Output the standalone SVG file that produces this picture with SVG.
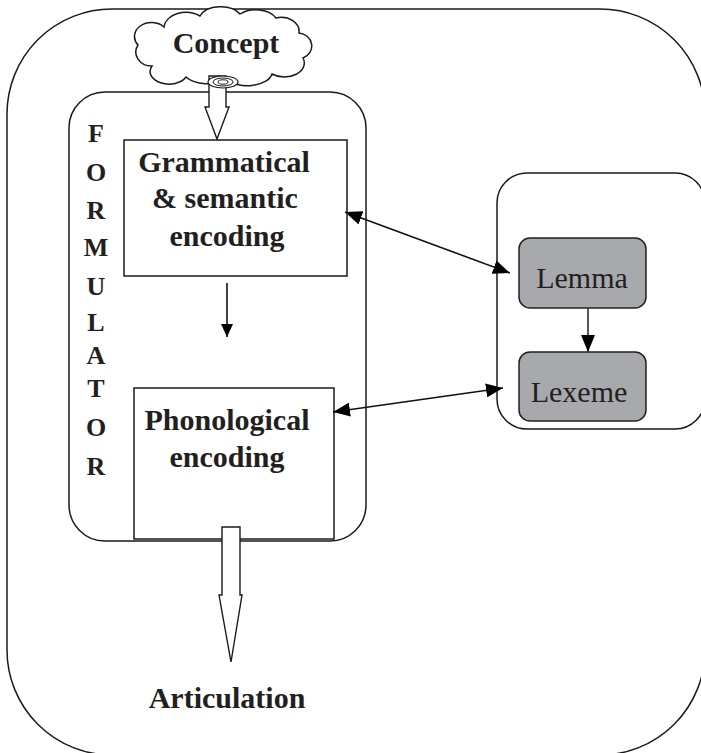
<svg xmlns="http://www.w3.org/2000/svg" width="701" height="753" viewBox="0 0 701 753">
  <style>
    .frame { fill: none; stroke: #1a1a1a; stroke-width: 1.5; }
    .box { fill: #ffffff; stroke: #1a1a1a; stroke-width: 1.5; }
    .lex { fill: #a7a9ac; stroke: #231f20; stroke-width: 1.5; }
    .block { fill: #ffffff; stroke: #1a1a1a; stroke-width: 1.4; stroke-linejoin: miter; }
    .link { fill: none; stroke: #111111; stroke-width: 1.6; }
    text { font-family: 'Liberation Serif', 'Times New Roman', serif; fill: #231f20; text-anchor: middle; }
    .bold { font-weight: bold; font-size: 30px; }
    .plain { font-weight: normal; font-size: 30px; }
    .side { font-weight: bold; font-size: 26px; }
  </style>
  <defs>
    <marker id="head" markerUnits="userSpaceOnUse" markerWidth="18" markerHeight="14" refX="17" refY="7" orient="auto-start-reverse">
      <path d="M0,0 L17,7 L0,14 Z" fill="#000"/>
    </marker>
    <marker id="headSmall" markerUnits="userSpaceOnUse" markerWidth="14" markerHeight="12" refX="13" refY="6" orient="auto">
      <path d="M0,0 L13,6 L0,12 Z" fill="#000"/>
    </marker>
  </defs>

  <rect width="701" height="753" fill="#ffffff"/>

  <!-- speaker boundary -->
  <g id="speaker">
    <rect class="frame" x="7" y="9" width="698" height="746" rx="105" ry="105"/>
  </g>

  <!-- formulator -->
  <g id="formulator">
    <rect class="frame" x="69" y="92" width="297" height="449" rx="36" ry="36"/>
    <text class="side" x="96" y="142">F</text>
    <text class="side" x="96" y="181">O</text>
    <text class="side" x="96" y="219">R</text>
    <text class="side" x="96" y="256">M</text>
    <text class="side" x="96" y="295">U</text>
    <text class="side" x="96" y="331">L</text>
    <text class="side" x="96" y="364">A</text>
    <text class="side" x="96" y="397">T</text>
    <text class="side" x="96" y="436">O</text>
    <text class="side" x="96" y="475">R</text>
  </g>

  <!-- lexicon -->
  <g id="lexicon">
    <rect class="frame" x="497" y="173" width="208" height="256" rx="30" ry="30"/>
  </g>

  <g id="grammatical">
    <rect class="box" x="124" y="140" width="223" height="136"/>
    <text class="bold" x="224" y="172">Grammatical</text>
    <text class="bold" x="225" y="208">&amp; semantic</text>
    <text class="bold" x="227" y="246">encoding</text>
  </g>

  <g id="phonological">
    <rect class="box" x="134" y="388" width="200" height="151"/>
    <text class="bold" x="227" y="430">Phonological</text>
    <text class="bold" x="227" y="467">encoding</text>
  </g>

  <g id="lemma">
    <rect class="lex" x="519" y="238" width="127" height="70" rx="11" ry="11"/>
    <text class="plain" x="582" y="288">Lemma</text>
  </g>

  <g id="lexeme">
    <rect class="lex" x="519" y="352" width="127" height="69" rx="11" ry="11"/>
    <text class="plain" x="579" y="402">Lexeme</text>
  </g>

  <g id="concept">
    <path class="box" d="M152,66 A16,14 0 0 1 138,45 A17,14 0 0 1 164,27 A22,16 0 0 1 200,16 A22,14 0 0 1 240,14 A22,14 0 0 1 276,18 A18,14 0 0 1 299,33 A14,13 0 0 1 303,58 A20,14 0 0 1 272,74 A25,14 0 0 1 226,79 A25,14 0 0 1 186,77 A18,12 0 0 1 152,66 Z"/>
    <text class="bold" x="226" y="53">Concept</text>
  </g>

  <g id="connectors">
    <!-- concept into grammatical encoding -->
    <path class="block" d="M209,76 L226,76 L226,107 L229,107 L217,139 L205,107 L209,107 Z"/>
    <ellipse cx="223" cy="82" rx="15" ry="6" fill="#ffffff" stroke="#1a1a1a" stroke-width="1.2"/>
    <ellipse cx="223" cy="82" rx="10" ry="4" fill="none" stroke="#1a1a1a" stroke-width="1"/>
    <ellipse cx="223" cy="82" rx="5" ry="2.2" fill="none" stroke="#1a1a1a" stroke-width="1"/>

    <!-- grammatical to phonological -->
    <line class="link" x1="227" y1="283" x2="227" y2="337" marker-end="url(#headSmall)"/>

    <!-- out to articulation -->
    <path class="block" d="M222,527 L240,527 L240,595 L242,595 L231,662 L219,595 L222,595 Z"/>

    <!-- lexicon exchanges -->
    <line class="link" x1="345" y1="212" x2="510" y2="273" marker-start="url(#head)" marker-end="url(#head)"/>
    <line class="link" x1="333" y1="412" x2="503" y2="388" marker-start="url(#head)" marker-end="url(#head)"/>

    <!-- lemma to lexeme -->
    <line x1="588" y1="308" x2="588" y2="352" stroke="#444" stroke-width="1.8" marker-end="url(#head)"/>
  </g>

  <g id="articulation">
    <text class="bold" x="227" y="708">Articulation</text>
  </g>
</svg>
